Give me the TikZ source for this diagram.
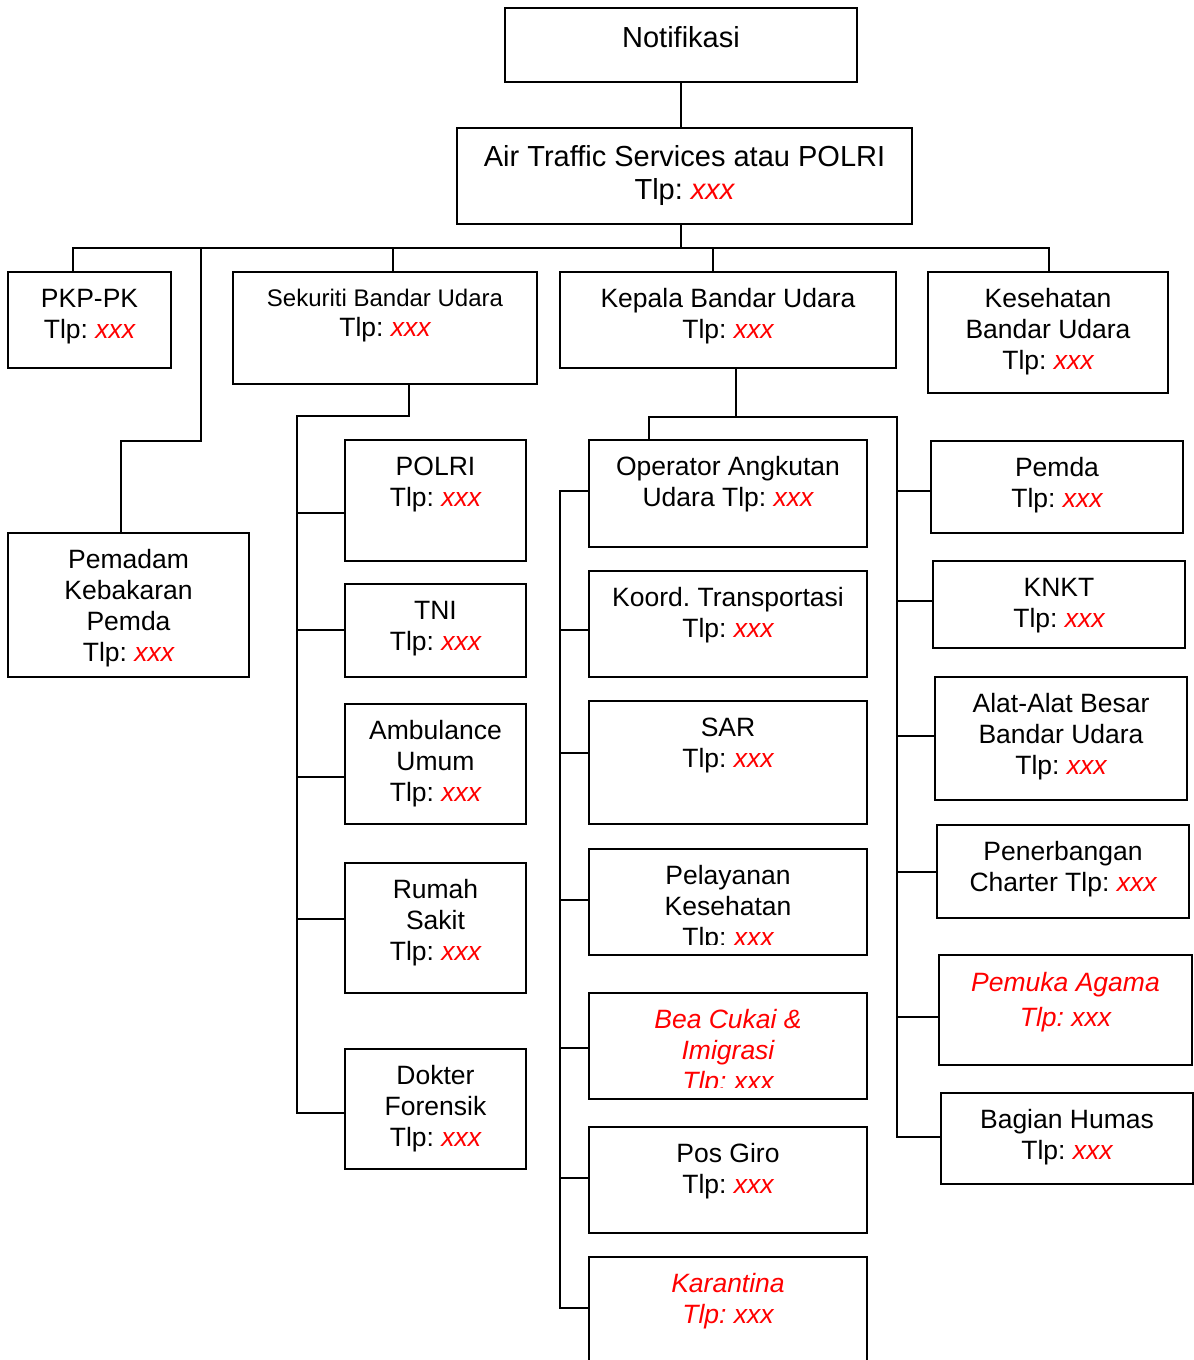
\documentclass[tikz,border=0pt]{standalone}
\usepackage{fontspec}
\setmainfont{Liberation Sans}
\usetikzlibrary{fit}
\frenchspacing

\tikzset{
  x=0.5pt, y=-0.5pt,
  orgbox/.style={draw, line width=1.2pt, inner sep=0pt, outer sep=0pt, rectangle},
  orgtext/.style={anchor=north, inner sep=0pt, align=center,
    font=\fontsize{13.25pt}{15.5pt}\selectfont, yshift=-6.75pt},
  bigtext/.style={font=\fontsize{14.5pt}{16.5pt}\selectfont},
  redtext/.style={text=red, font=\fontsize{13.25pt}{15.5pt}\selectfont\itshape},
  wire/.style={line width=1.1pt, line join=miter},
}

% phone line with the number placeholder in red italics
\newcommand\tlp{Tlp: \textcolor{red}{\itshape xxx}}
% box given by its corners, plus its top-aligned text
\newcommand\orgunit[7]{%
  \node[orgbox, fit={(#2,#3) (#4,#5)}] (#1) {};
  \node[orgtext,#6] (#1-text) at (#1.north) {\rule{0pt}{11pt}#7};}

\begin{document}
\begin{tikzpicture}
\path[use as bounding box, clip] (0,0) rectangle (1194,1360);
\fill[white] (0,0) rectangle (1194,1360);

% ---- top of the chain
\orgunit{notif}{505}{8}{857}{82}{bigtext, yshift=-1.75pt}{Notifikasi}
\orgunit{ats}{457}{128}{912}{224}{bigtext, yshift=-1.25pt}{Air Traffic Services atau POLRI\\\tlp}

% ---- first level
\orgunit{pkp}{8}{272}{171}{368}{}{PKP-PK\\\tlp}
\orgunit{sek}{233}{272}{537}{384}{font=\fontsize{13.25pt}{15pt}\selectfont, yshift=0.75pt}{{\fontsize{12pt}{15pt}\selectfont Sekuriti Bandar Udara}\\\tlp}
\orgunit{kep}{560}{272}{896}{368}{}{Kepala Bandar Udara\\\tlp}
\orgunit{kes}{928}{272}{1168}{393}{}{Kesehatan\\Bandar Udara\\\tlp}
\orgunit{pem}{8}{533}{249}{677}{}{Pemadam\\Kebakaran\\Pemda\\\tlp}

% ---- security column
\orgunit{pol}{345}{440}{526}{561}{}{POLRI\\\tlp}
\orgunit{tni}{345}{584}{526}{677}{}{TNI\\\tlp}
\orgunit{amb}{345}{704}{526}{824}{}{Ambulance\\Umum\\\tlp}
\orgunit{rum}{345}{863}{526}{993}{}{Rumah\\Sakit\\\tlp}
\orgunit{dok}{345}{1049}{526}{1169}{}{Dokter\\Forensik\\\tlp}

% ---- airport head, middle column
\orgunit{opr}{589}{440}{867}{547}{}{Operator Angkutan\\Udara \tlp}
\orgunit{koo}{589}{571}{867}{677}{}{Koord. Transportasi\\\tlp}
\orgunit{sar}{589}{701}{867}{824}{}{SAR\\\tlp}
\node[orgbox, fit={(589,849) (867,955)}] (pel) {};
\node[orgbox, fit={(589,993) (867,1099)}] (bea) {};
\begin{scope}
  \clip (589,849) rectangle (867,944);
  \node[orgtext] (pel-text) at (pel.north) {\rule{0pt}{11pt}Pelayanan\\Kesehatan\\\tlp};
\end{scope}
\begin{scope}
  \clip (589,993) rectangle (867,1087);
  \node[orgtext, redtext] (bea-text) at (bea.north) {\rule{0pt}{11pt}Bea Cukai \&\\Imigrasi\\Tlp: xxx};
\end{scope}
\orgunit{pos}{589}{1127}{867}{1233}{}{Pos Giro\\\tlp}
\orgunit{kar}{589}{1257}{867}{1400}{redtext}{Karantina\\Tlp: xxx}

% ---- airport head, right column
\orgunit{pmd}{931}{441}{1183}{533}{}{Pemda\\\tlp}
\orgunit{knk}{933}{561}{1185}{648}{}{KNKT\\\tlp}
\orgunit{ala}{935}{677}{1187}{800}{}{Alat-Alat Besar\\Bandar Udara\\\tlp}
\orgunit{pen}{937}{825}{1189}{918}{}{Penerbangan\\Charter \tlp}
\orgunit{pmk}{939}{955}{1192}{1065}{redtext, font=\fontsize{13.25pt}{17.5pt}\selectfont\itshape, yshift=-0.5pt}{Pemuka Agama\\Tlp: xxx}
\orgunit{hum}{941}{1093}{1193}{1184}{}{Bagian Humas\\\tlp}

% ---- junction points
\coordinate (j0)   at (681,248);
\coordinate (dPKP) at (73,248);
\coordinate (dPEM) at (201,248);
\coordinate (dSEK) at (393,248);
\coordinate (dKEP) at (713,248);
\coordinate (dKES) at (1049,248);
\coordinate (pemA) at (201,441);
\coordinate (pemB) at (121,441);
\coordinate (sekA) at (409,416);
\coordinate (sekB) at (297,416);
\coordinate (kepA) at (736,417);
\coordinate (kepL) at (649,417);
\coordinate (kepR) at (897,417);

% ---- connectors
\draw[wire] (notif.south -| j0) -- (ats.north -| j0);
\draw[wire] (ats.south -| j0) -- (j0);
\draw[wire] (dPKP |- pkp.north) -- (dPKP) -- (dKES) -- (dKES |- kes.north);
\draw[wire] (dSEK) -- (dSEK |- sek.north);
\draw[wire] (dKEP) -- (dKEP |- kep.north);
\draw[wire] (dPEM) -- (pemA) -- (pemB) -- (pemB |- pem.north);

% security column
\foreach \n/\yy in {pol/513, tni/630, amb/777, rum/919, dok/1113}{
  \coordinate (s-\n) at (297,\yy);
  \draw[wire] (s-\n) -- (s-\n -| \n.west);
}
\draw[wire] (sek.south -| sekA) -- (sekA) -- (sekB) -- (s-dok) -- (s-dok -| dok.west);

% airport head
\draw[wire] (kep.south -| kepA) -- (kepA);

% middle column bus on the left
\foreach \n/\yy in {opr/491, koo/630, sar/753, pel/900, bea/1048, pos/1178, kar/1308}{
  \coordinate (m-\n) at (560,\yy);
  \draw[wire] (m-\n) -- (m-\n -| \n.west);
}
\draw[wire] (m-opr -| opr.west) -- (m-opr) -- (m-kar) -- (m-kar -| kar.west);

% right column bus
\foreach \n/\yy in {pmd/491, knk/601, ala/736, pen/872, pmk/1017, hum/1137}{
  \coordinate (r-\n) at (897,\yy);
  \draw[wire] (r-\n) -- (r-\n -| \n.west);
}
\draw[wire] (kepL |- opr.north) -- (kepL) -- (kepR) -- (r-hum) -- (r-hum -| hum.west);
\end{tikzpicture}
\end{document}
